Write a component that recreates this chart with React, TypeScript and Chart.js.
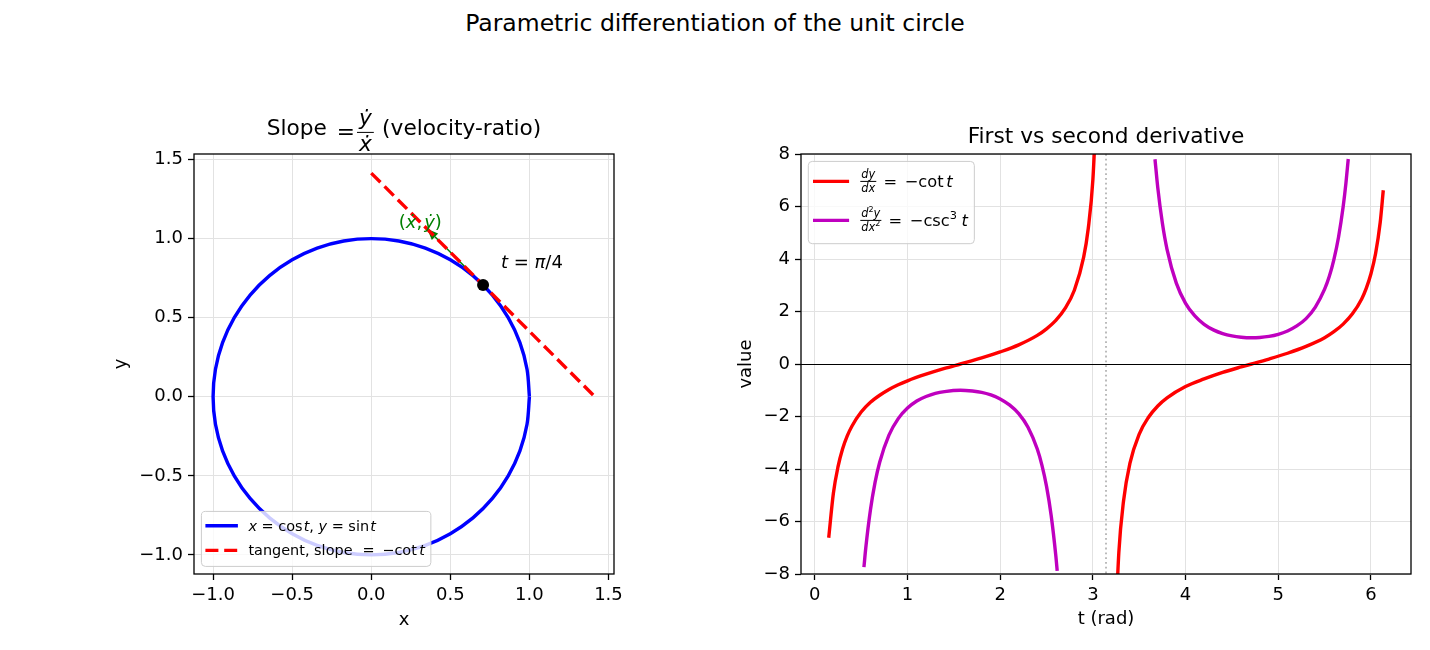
import React, { useEffect, useRef } from 'react';
import { Chart, registerables } from 'chart.js';

Chart.register(...registerables);

const FONT = '"DejaVu Sans", "Noto Sans", sans-serif';
const BLUE = '#0000ff';
const RED = '#ff0000';
const MAGENTA = '#bf00bf';
const GREEN = '#008000';
const GRID = '#e2e2e2';
const LW = 3.4;
const DASH = [13, 5.8];

const SUPTITLE = 'Parametric differentiation of the unit circle';

// ---- left panel: the unit circle, sampled every 10 degrees (t = 0 .. 2π)
const CIRCLE_X = [1, 0.985, 0.94, 0.866, 0.766, 0.643, 0.5, 0.342, 0.174, 0, -0.174, -0.342, -0.5, -0.643, -0.766, -0.866, -0.94, -0.985, -1, -0.985, -0.94, -0.866, -0.766, -0.643, -0.5, -0.342, -0.174, 0, 0.174, 0.342, 0.5, 0.643, 0.766, 0.866, 0.94, 0.985, 1];
const CIRCLE_Y = [0, 0.174, 0.342, 0.5, 0.643, 0.766, 0.866, 0.94, 0.985, 1, 0.985, 0.94, 0.866, 0.766, 0.643, 0.5, 0.342, 0.174, 0, -0.174, -0.342, -0.5, -0.643, -0.766, -0.866, -0.94, -0.985, -1, -0.985, -0.94, -0.866, -0.766, -0.643, -0.5, -0.342, -0.174, 0];
// tangent at t = π/4
const TANGENT_X = [0, 1.414];
const TANGENT_Y = [1.414, 0];
const POINT_X = [0.707];
const POINT_Y = [0.707];
// velocity vector (ẋ, ẏ) drawn from the point
const VELOCITY_FROM = [0.707, 0.707];
const VELOCITY_TO = [0.354, 1.061];
const VELOCITY_LABEL_AT = [0.31, 1.065];
const T_LABEL_AT = [0.82, 0.815];
const LEFT_TICKS = [-1, -0.5, 0, 0.5, 1, 1.5];
const LEFT_MIN = -1.1207;
const LEFT_MAX = 1.5349;

// ---- right panel: dy/dx = -cot t, two branches
const RED_T1 = [0.15, 0.2, 0.25, 0.3, 0.35, 0.4, 0.5, 0.6, 0.7, 0.8, 0.9, 1.0, 1.2, 1.4, 1.571, 1.8, 2.0, 2.2, 2.4, 2.5, 2.6, 2.7, 2.8, 2.9, 2.95, 3.0, 3.05];
const RED_V1 = [-6.62, -4.93, -3.92, -3.23, -2.74, -2.37, -1.83, -1.46, -1.19, -0.97, -0.79, -0.64, -0.39, -0.17, 0, 0.23, 0.46, 0.73, 1.09, 1.34, 1.66, 2.12, 2.81, 4.06, 5.16, 7.02, 10.9];
const RED_T2 = [3.23, 3.28, 3.33, 3.4, 3.5, 3.6, 3.7, 3.8, 4.0, 4.2, 4.4, 4.6, 4.712, 4.9, 5.1, 5.3, 5.5, 5.6, 5.7, 5.8, 5.9, 5.95, 6.0, 6.05, 6.1, 6.133];
const RED_V2 = [-11.29, -7.18, -5.24, -3.78, -2.67, -2.03, -1.6, -1.29, -0.86, -0.57, -0.32, -0.11, 0, 0.19, 0.41, 0.67, 1.0, 1.23, 1.52, 1.91, 2.48, 2.89, 3.44, 4.21, 5.4, 6.62];
// d²y/dx² = -csc³ t, two branches
const PURPLE_T1 = [0.53, 0.55, 0.6, 0.65, 0.7, 0.8, 0.9, 1.0, 1.1, 1.2, 1.3, 1.4, 1.571, 1.7, 1.8, 1.9, 2.0, 2.1, 2.2, 2.3, 2.4, 2.45, 2.5, 2.55, 2.6, 2.615];
const PURPLE_V1 = [-7.74, -7.0, -5.56, -4.51, -3.74, -2.71, -2.08, -1.68, -1.41, -1.24, -1.12, -1.05, -1.0, -1.03, -1.08, -1.18, -1.33, -1.56, -1.89, -2.41, -3.24, -3.85, -4.66, -5.77, -7.3, -7.88];
const PURPLE_T2 = [3.67, 3.7, 3.75, 3.8, 3.9, 4.0, 4.1, 4.2, 4.3, 4.4, 4.5, 4.6, 4.712, 4.8, 4.9, 5.0, 5.1, 5.2, 5.3, 5.4, 5.5, 5.55, 5.6, 5.65, 5.7, 5.73, 5.755];
const PURPLE_V2 = [7.8, 6.72, 5.36, 4.37, 3.08, 2.31, 1.83, 1.51, 1.3, 1.16, 1.07, 1.02, 1.0, 1.01, 1.05, 1.13, 1.26, 1.45, 1.73, 2.17, 2.85, 3.33, 3.98, 4.83, 5.99, 6.89, 7.81];
const RIGHT_X_TICKS = [0, 1, 2, 3, 4, 5, 6];
const RIGHT_Y_TICKS = [-8, -6, -4, -2, 0, 2, 4, 6, 8];
const RIGHT_X_MIN = -0.149;
const RIGHT_X_MAX = 6.432;
const RIGHT_Y_MIN = -8;
const RIGHT_Y_MAX = 8;
const ASYMPTOTE_T = 3.1416;
const ZERO_LEVEL = 0;

const pts = (xs: number[], ys: number[]) => xs.map((x, i) => ({ x, y: ys[i] }));
const withMinus = (s: string) => s.replace('-', '\u2212');
const fmt1 = (v: number) => withMinus(v.toFixed(1));
const fmt0 = (v: number) => withMinus(String(Math.round(v)));

// ---- small rich-text helpers (upright / italic runs, sub-sizes, shifts)
type Seg = { t?: string; i?: boolean; k?: number; dy?: number; sp?: number };
const fontOf = (size: number, italic?: boolean) => `${italic ? 'italic ' : ''}${size}px ${FONT}`;

function segsWidth(ctx: CanvasRenderingContext2D, segs: Seg[], size: number) {
  let w = 0;
  for (const s of segs) {
    if (s.sp !== undefined) { w += s.sp; continue; }
    ctx.font = fontOf(size * (s.k ?? 1), s.i);
    w += ctx.measureText(s.t || '').width;
  }
  return w;
}

function drawSegs(ctx: CanvasRenderingContext2D, segs: Seg[], x: number, y: number, size: number) {
  let cx = x;
  for (const s of segs) {
    if (s.sp !== undefined) { cx += s.sp; continue; }
    ctx.font = fontOf(size * (s.k ?? 1), s.i);
    ctx.fillText(s.t || '', cx, y + (s.dy ?? 0));
    cx += ctx.measureText(s.t || '').width;
  }
  return cx - x;
}

function fracWidth(ctx: CanvasRenderingContext2D, num: Seg[], den: Seg[], size: number, pad: number) {
  return Math.max(segsWidth(ctx, num, size), segsWidth(ctx, den, size)) + 2 * pad;
}

function drawFrac(ctx: CanvasRenderingContext2D, num: Seg[], den: Seg[], x: number, bar: number,
  size: number, numUp: number, denDown: number, pad: number) {
  const nw = segsWidth(ctx, num, size);
  const dw = segsWidth(ctx, den, size);
  const w = Math.max(nw, dw) + 2 * pad;
  drawSegs(ctx, num, x + (w - nw) / 2, bar - numUp, size);
  drawSegs(ctx, den, x + (w - dw) / 2, bar + denDown, size);
  ctx.fillRect(x, bar - 0.5, w, 1);
  return w;
}

function eqBaseline(ctx: CanvasRenderingContext2D, size: number, center: number) {
  ctx.font = fontOf(size);
  const m = ctx.measureText('=');
  return center + (m.actualBoundingBoxAscent - m.actualBoundingBoxDescent) / 2;
}

function drawFrame(ctx: CanvasRenderingContext2D, ca: any) {
  ctx.save();
  ctx.strokeStyle = '#000';
  ctx.lineWidth = 1.3;
  ctx.setLineDash([]);
  ctx.strokeRect(ca.left, ca.top, ca.right - ca.left, ca.bottom - ca.top);
  ctx.restore();
}

function drawLegendBox(ctx: CanvasRenderingContext2D, x: number, y: number, w: number, h: number) {
  ctx.save();
  ctx.beginPath();
  ctx.roundRect(x, y, w, h, 4);
  ctx.fillStyle = 'rgba(255,255,255,0.8)';
  ctx.fill();
  ctx.strokeStyle = '#cccccc';
  ctx.lineWidth = 1;
  ctx.stroke();
  ctx.restore();
}

function drawHandle(ctx: CanvasRenderingContext2D, x0: number, x1: number, y: number, color: string, dash: number[]) {
  ctx.save();
  ctx.strokeStyle = color;
  ctx.lineWidth = LW;
  ctx.setLineDash(dash);
  ctx.beginPath();
  ctx.moveTo(x0, y);
  ctx.lineTo(x1, y);
  ctx.stroke();
  ctx.restore();
}

function drawAxisLabels(ctx: CanvasRenderingContext2D, ca: any, xText: string, yText: string, xBase: number, yBaseOffset: number) {
  ctx.save();
  ctx.fillStyle = '#000';
  ctx.font = fontOf(18);
  ctx.textAlign = 'center';
  ctx.textBaseline = 'alphabetic';
  ctx.fillText(xText, (ca.left + ca.right) / 2, xBase);
  ctx.translate(ca.left - yBaseOffset, (ca.top + ca.bottom) / 2);
  ctx.rotate(-Math.PI / 2);
  ctx.fillText(yText, 0, 0);
  ctx.restore();
}

function axis(min: number, max: number, ticks: number[], fmt: (v: number) => string, vertical: boolean) {
  return {
    type: 'linear',
    min,
    max,
    afterBuildTicks: (s: any) => { s.ticks = ticks.map((value) => ({ value })); },
    afterFit: (s: any) => { if (vertical) s.width = 60; else s.height = 50; },
    ticks: {
      autoSkip: false,
      maxRotation: 0,
      minRotation: 0,
      padding: 5,
      color: '#000',
      font: { family: FONT, size: 18 },
      callback: (v: any) => fmt(Number(v)),
    },
    grid: { color: GRID, lineWidth: 1, drawTicks: true, tickLength: 6, tickColor: '#000', tickWidth: 1.3 },
    border: { display: false },
  };
}

// ---- left panel decorations: velocity arrow, frame, title, labels, legend
const leftDecor = {
  id: 'leftDecor',
  beforeDatasetsDraw(chart: any) {
    const { ctx, scales: { x, y } } = chart;
    const ax = x.getPixelForValue(VELOCITY_FROM[0]);
    const ay = y.getPixelForValue(VELOCITY_FROM[1]);
    const bx = x.getPixelForValue(VELOCITY_TO[0]);
    const by = y.getPixelForValue(VELOCITY_TO[1]);
    const a = Math.atan2(by - ay, bx - ax);
    const hl = 11;
    const hw = 4.5;
    const c = Math.cos(a);
    const s = Math.sin(a);
    ctx.save();
    ctx.strokeStyle = GREEN;
    ctx.fillStyle = GREEN;
    ctx.lineWidth = 1.5;
    ctx.beginPath();
    ctx.moveTo(ax, ay);
    ctx.lineTo(bx - hl * c, by - hl * s);
    ctx.stroke();
    ctx.beginPath();
    ctx.moveTo(bx, by);
    ctx.lineTo(bx - hl * c + hw * s, by - hl * s - hw * c);
    ctx.lineTo(bx - hl * c - hw * s, by - hl * s + hw * c);
    ctx.closePath();
    ctx.fill();
    ctx.restore();
  },
  afterDatasetsDraw(chart: any) {
    const { ctx, chartArea: ca, scales: { x, y } } = chart;
    drawFrame(ctx, ca);
    ctx.save();
    ctx.textAlign = 'left';
    ctx.textBaseline = 'alphabetic';
    ctx.fillStyle = '#000';

    // title: Slope = ẏ/ẋ (velocity-ratio)
    const ts = 21.7;
    const bar = ca.top - 21.6;
    const base = ca.top - 19;
    const num: Seg[] = [{ t: 'ẏ', i: true }];
    const den: Seg[] = [{ t: 'ẋ', i: true }];
    ctx.font = fontOf(ts);
    const wSlope = ctx.measureText('Slope ').width;
    const wEq = ctx.measureText('=').width;
    const wRest = ctx.measureText(' (velocity-ratio)').width;
    const wFrac = fracWidth(ctx, num, den, ts, 2);
    const total = wSlope + 3 + wEq + 2 + wFrac + 1.4 + wRest;
    let cx = (ca.left + ca.right) / 2 - total / 2;
    ctx.font = fontOf(ts);
    ctx.fillText('Slope ', cx, base);
    cx += wSlope + 3;
    const eb = eqBaseline(ctx, ts, bar);
    ctx.fillText('=', cx, eb);
    cx += wEq + 2;
    cx += drawFrac(ctx, num, den, cx, bar, ts, 7.7, 19, 2) + 1.4;
    ctx.font = fontOf(ts);
    ctx.fillText(' (velocity-ratio)', cx, base);

    // point annotations
    const px = x.getPixelForValue(T_LABEL_AT[0]);
    const py = y.getPixelForValue(T_LABEL_AT[1]);
    drawSegs(ctx, [{ t: 't', i: true }, { t: ' = ' }, { t: 'π', i: true }, { t: '/4' }], px, py, 18);

    const vel: Seg[] = [{ t: '(' }, { t: 'ẋ', i: true }, { t: ',' }, { sp: 2 }, { t: 'ẏ', i: true }, { t: ')' }];
    const vw = segsWidth(ctx, vel, 18);
    ctx.fillStyle = GREEN;
    drawSegs(ctx, vel, x.getPixelForValue(VELOCITY_LABEL_AT[0]) - vw / 2, y.getPixelForValue(VELOCITY_LABEL_AT[1]), 18);
    ctx.restore();

    drawAxisLabels(ctx, ca, 'x', 'y', ca.bottom + 51, 67.7);

    // legend (lower left)
    ctx.save();
    ctx.textAlign = 'left';
    ctx.textBaseline = 'alphabetic';
    const ls = 14.44;
    const rows = [
      {
        color: BLUE, dash: [] as number[],
        segs: [{ t: 'x', i: true }, { t: ' = cos' }, { sp: 1.2 }, { t: 't', i: true }, { t: ', ' }, { t: 'y', i: true }, { t: ' = sin' }, { sp: 1.2 }, { t: 't', i: true }] as Seg[],
      },
      {
        color: RED, dash: DASH,
        segs: [{ t: 'tangent, slope ' }, { sp: 5.5 }, { t: '= ' }, { sp: 3 }, { t: '\u2212cot' }, { sp: 2.4 }, { t: 't', i: true }] as Seg[],
      },
    ];
    const bh = 55;
    const bxl = ca.left + 7.4;
    const byl = ca.bottom - 7.6 - bh;
    const textOff = 47;
    const maxW = Math.max(...rows.map((r) => segsWidth(ctx, r.segs, ls)));
    drawLegendBox(ctx, bxl, byl, textOff + maxW + 6, bh);
    rows.forEach((r, k) => {
      const hy = byl + 14.3 + k * 24.7;
      drawHandle(ctx, bxl + 4, bxl + 36.5, hy, r.color, r.dash);
      ctx.fillStyle = '#000';
      drawSegs(ctx, r.segs, bxl + textOff, hy + 5, ls);
    });
    ctx.restore();
  },
};

// ---- right panel decorations: reference lines, frame, title, labels, legend
const rightDecor = {
  id: 'rightDecor',
  afterDatasetsDraw(chart: any) {
    const { ctx, chartArea: ca, scales: { x, y } } = chart;
    ctx.save();
    ctx.beginPath();
    ctx.rect(ca.left, ca.top, ca.right - ca.left, ca.bottom - ca.top);
    ctx.clip();
    const y0 = Math.round(y.getPixelForValue(ZERO_LEVEL)) + 0.5;
    ctx.strokeStyle = '#000';
    ctx.lineWidth = 1;
    ctx.beginPath();
    ctx.moveTo(ca.left, y0);
    ctx.lineTo(ca.right, y0);
    ctx.stroke();
    const xa = x.getPixelForValue(ASYMPTOTE_T);
    ctx.strokeStyle = 'rgba(128,128,128,0.6)';
    ctx.lineWidth = 1.8;
    ctx.setLineDash([1.8, 3]);
    ctx.beginPath();
    ctx.moveTo(xa, ca.top);
    ctx.lineTo(xa, ca.bottom);
    ctx.stroke();
    ctx.restore();

    drawFrame(ctx, ca);

    ctx.save();
    ctx.fillStyle = '#000';
    ctx.font = fontOf(21.7);
    ctx.textAlign = 'center';
    ctx.textBaseline = 'alphabetic';
    ctx.fillText('First vs second derivative', (ca.left + ca.right) / 2, ca.top - 11);
    ctx.restore();

    drawAxisLabels(ctx, ca, 't (rad)', 'value', ca.bottom + 50, 50.5);

    // legend (upper left) with fraction labels
    ctx.save();
    ctx.textAlign = 'left';
    ctx.textBaseline = 'alphabetic';
    const ls = 16.25;
    const fs = 11.4;
    const rows = [
      {
        color: RED,
        num: [{ t: 'd', i: true }, { t: 'y', i: true }] as Seg[],
        den: [{ t: 'd', i: true }, { t: 'x', i: true }] as Seg[],
        rest: [{ sp: 2 }, { t: ' = ' }, { sp: 2.5 }, { t: '\u2212cot' }, { sp: 2.7 }, { t: 't', i: true }] as Seg[],
      },
      {
        color: MAGENTA,
        num: [{ t: 'd', i: true }, { t: '2', k: 0.7, dy: -4.5 }, { t: 'y', i: true }] as Seg[],
        den: [{ t: 'd', i: true }, { t: 'x', i: true }, { t: '2', k: 0.7, dy: -4.5 }] as Seg[],
        rest: [{ sp: 2 }, { t: ' = ' }, { sp: 2.5 }, { t: '\u2212csc' }, { t: '3', k: 0.7, dy: -6.5 }, { sp: 4.5 }, { t: 't', i: true }] as Seg[],
      },
    ];
    const bx = ca.left + 7.3;
    const by = ca.top + 7.4;
    const bh = 82.3;
    const textOff = 52;
    const widths = rows.map((r) => fracWidth(ctx, r.num, r.den, fs, 1) + segsWidth(ctx, r.rest, ls));
    drawLegendBox(ctx, bx, by, textOff + Math.max(...widths) + 6.5, bh);
    rows.forEach((r, k) => {
      const hy = by + 20 + k * 39;
      drawHandle(ctx, bx + 4.7, bx + 40.8, hy, r.color, []);
      ctx.fillStyle = '#000';
      const fw = drawFrac(ctx, r.num, r.den, bx + textOff, hy, fs, 3.8, 10.5, 1);
      drawSegs(ctx, r.rest, bx + textOff + fw, hy + 5.5, ls);
    });
    ctx.restore();
  },
};

function baseOptions(padding: any, scales: any) {
  return {
    responsive: false,
    animation: false,
    events: [],
    layout: { padding },
    plugins: { legend: { display: false }, title: { display: false }, tooltip: { enabled: false } },
    elements: { line: { capBezierPoints: false }, point: { radius: 0 } },
    scales,
  };
}

export default function App() {
  const leftRef = useRef<HTMLCanvasElement>(null);
  const rightRef = useRef<HTMLCanvasElement>(null);

  useEffect(() => {
    const left = new Chart(leftRef.current as HTMLCanvasElement, {
      type: 'line',
      data: {
        datasets: [
          { label: 'x = cos t, y = sin t', data: pts(CIRCLE_X, CIRCLE_Y), borderColor: BLUE, borderWidth: LW, pointRadius: 0, tension: 0.33, fill: false, order: 3 },
          { label: 'tangent', data: pts(TANGENT_X, TANGENT_Y), borderColor: RED, borderWidth: LW, borderDash: DASH, pointRadius: 0, fill: false, order: 2 },
          { label: 't = π/4', data: pts(POINT_X, POINT_Y), showLine: false, pointRadius: 6, pointBackgroundColor: '#000', pointBorderColor: '#000', pointBorderWidth: 0, order: 1 },
        ],
      },
      options: baseOptions(
        { left: 134, right: 101, top: 154, bottom: 26 },
        { x: axis(LEFT_MIN, LEFT_MAX, LEFT_TICKS, fmt1, false), y: axis(LEFT_MIN, LEFT_MAX, LEFT_TICKS, fmt1, true) },
      ) as any,
      plugins: [leftDecor],
    } as any);

    const curve = (xs: number[], ys: number[], color: string, order: number) => ({
      data: pts(xs, ys), borderColor: color, borderWidth: LW, pointRadius: 0, fill: false,
      cubicInterpolationMode: 'monotone', clip: 0, order,
    });

    const right = new Chart(rightRef.current as HTMLCanvasElement, {
      type: 'line',
      data: {
        datasets: [
          { label: 'dy/dx', ...curve(RED_T1, RED_V1, RED, 4) },
          { label: 'dy/dx', ...curve(RED_T2, RED_V2, RED, 4) },
          { label: 'd2y/dx2', ...curve(PURPLE_T1, PURPLE_V1, MAGENTA, 3) },
          { label: 'd2y/dx2', ...curve(PURPLE_T2, PURPLE_V2, MAGENTA, 3) },
        ],
      },
      options: baseOptions(
        { left: 26, right: 19, top: 154, bottom: 26 },
        { x: axis(RIGHT_X_MIN, RIGHT_X_MAX, RIGHT_X_TICKS, fmt0, false), y: axis(RIGHT_Y_MIN, RIGHT_Y_MAX, RIGHT_Y_TICKS, fmt0, true) },
      ) as any,
      plugins: [rightDecor],
    } as any);

    return () => {
      left.destroy();
      right.destroy();
    };
  }, []);

  return (
    <div style={{ position: 'absolute', left: 0, top: 0, width: 1430, height: 650, background: '#fff', overflow: 'hidden' }}>
      <div style={{ position: 'absolute', left: 0, top: 10.9, width: 1430, textAlign: 'center', fontFamily: FONT, fontSize: '23.5px', lineHeight: '24px', color: '#000' }}>
        {SUPTITLE}
      </div>
      <canvas ref={leftRef} width={715} height={650} style={{ position: 'absolute', left: 0, top: 0, display: 'block' }} />
      <canvas ref={rightRef} width={715} height={650} style={{ position: 'absolute', left: 715, top: 0, display: 'block' }} />
    </div>
  );
}
